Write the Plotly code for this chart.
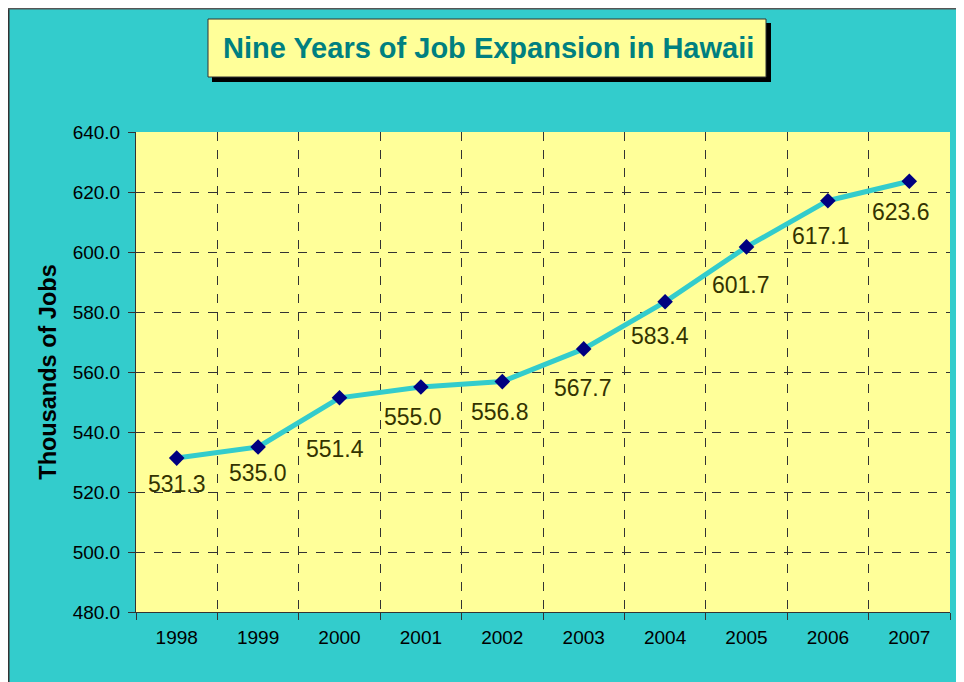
"""Hawaii job growth line chart, Excel-style, using Plotly."""

import plotly.graph_objects as go

YEARS = ["1998", "1999", "2000", "2001", "2002", "2003", "2004", "2005", "2006", "2007"]
JOBS = [531.3, 535.0, 551.4, 555.0, 556.8, 567.7, 583.4, 601.7, 617.1, 623.6]

TITLE = "Nine Years of Job Expansion in Hawaii"
Y_TITLE = "Thousands of Jobs"

# label nudges (px, right / down) to mimic the hand-placed Excel labels
LABEL_DX = [0, 0, -5, -8, -2, -1, -5, -6, -7, -8]
LABEL_DY = [26, 26, 51, 30, 30, 39, 34, 38, 35, 31]

FONT = "Arial, Liberation Sans, sans-serif"
TEAL = "#33CCCC"

# the page body adds an 8px margin, so the figure starts at (8, 8)
OFF = 8
W, H = 964 - OFF, 682 - OFF
L, R, T, B = 136 - OFF, 14, 132 - OFF, 70
PW, PH = W - L - R, H - T - B


def px(x):
    return (x - OFF - L) / PW


def py(y):
    return (H - B - (y - OFF)) / PH


fig = go.Figure()

fig.add_trace(
    go.Scatter(
        x=YEARS,
        y=JOBS,
        mode="lines+markers",
        line={"color": TEAL, "width": 5},
        marker={"symbol": "diamond", "size": 12, "color": "#000080"},
        showlegend=False,
        hoverinfo="x+y",
    )
)

# x is the category index here (string x on a category axis hid the labels)
for i, (v, dx, dy) in enumerate(zip(JOBS, LABEL_DX, LABEL_DY)):
    fig.add_annotation(
        x=i, y=v, xref="x", yref="y",
        text=f"{v:.1f}", showarrow=False,
        xshift=dx, yshift=-dy,
        font=dict(family=FONT, size=23, color="#333300"),
    )

fig.add_annotation(
    x=px(488), y=py(48), xref="paper", yref="paper",
    text=f"<b>{TITLE}</b>", showarrow=False,
    xanchor="center", yanchor="middle",
    font=dict(family=FONT, size=29, color="#008080"),
)

shapes = [
    # outer frame, left and top edges
    dict(type="line", xref="paper", yref="paper",
         x0=px(8), x1=px(8), y0=py(0), y1=py(H + 40),
         line={"color": "#333333", "width": 3}),
    dict(type="line", xref="paper", yref="paper",
         x0=px(8), x1=px(W + 40), y0=py(8), y1=py(8),
         line={"color": "#555555", "width": 3}),
    # title shadow + box
    dict(type="rect", xref="paper", yref="paper",
         x0=px(212), x1=px(771), y0=py(23), y1=py(82),
         fillcolor="#000000", line={"width": 0}),
    dict(type="rect", xref="paper", yref="paper",
         x0=px(208), x1=px(766), y0=py(19), y1=py(77),
         fillcolor="#FFFF99", line={"color": "#333333", "width": 1}),
]

fig.update_layout(
    width=W,
    height=H,
    margin={"l": L, "r": R, "t": T, "b": B, "autoexpand": False},
    paper_bgcolor=TEAL,
    plot_bgcolor="#FFFF99",
    font={"family": FONT, "color": "#000000"},
    shapes=shapes,
    xaxis={
        "type": "category",
        "tickson": "boundaries",
        "ticks": "outside",
        "ticklen": 7,
        "tickcolor": "#333333",
        "showline": True,
        "linecolor": "#333333",
        "linewidth": 1,
        "showgrid": True,
        "gridcolor": "#333333",
        "griddash": "dash",
        "gridwidth": 1,
        "tickfont": {"size": 19},
        "ticklabelstandoff": 8,
        "range": [-0.5, len(YEARS) - 0.5],
        "fixedrange": True,
    },
    yaxis={
        "range": [480, 640],
        "dtick": 20,
        "tick0": 480,
        "tickformat": ".1f",
        "ticks": "outside",
        "ticklen": 7,
        "tickcolor": "#333333",
        "showline": True,
        "linecolor": "#333333",
        "linewidth": 1,
        "showgrid": True,
        "gridcolor": "#333333",
        "griddash": "dash",
        "gridwidth": 1,
        "zeroline": False,
        "tickfont": {"size": 19},
        "ticklabelstandoff": 4,
        "title": {"text": f"<b>{Y_TITLE}</b>", "font": {"size": 23.5}, "standoff": 9},
        "fixedrange": True,
    },
)

fig.write_html("out.html")
